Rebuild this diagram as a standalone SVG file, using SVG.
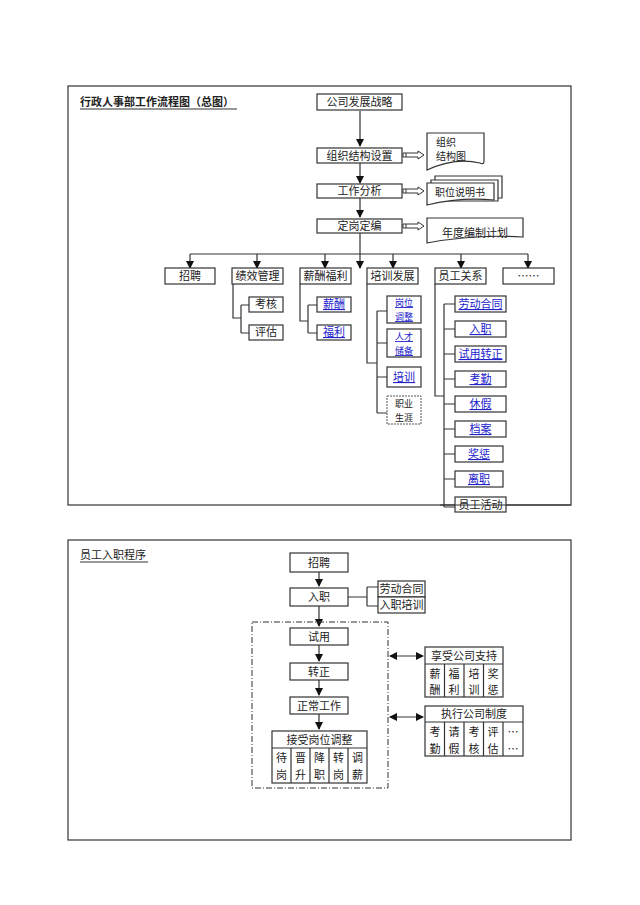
<svg xmlns="http://www.w3.org/2000/svg" width="640" height="905" viewBox="0 0 640 905">
<defs>
<style>
text{font-family:"Noto Sans CJK SC","Liberation Sans",sans-serif;font-size:11px;fill:#222;text-anchor:middle}
.t{text-anchor:start;font-size:11px}
.s{font-size:10px}
.u{font-size:9px}
.b{fill:#fff;stroke:#333;stroke-width:1.2}
.l{fill:none;stroke:#333;stroke-width:1.2}
.k{fill:#22c;text-decoration:underline}
</style>
<marker id="a" markerWidth="8" markerHeight="8" refX="7" refY="4" orient="auto-start-reverse" markerUnits="userSpaceOnUse"><path d="M0,0L8,4L0,8z" fill="#111"/></marker>
</defs>
<rect width="640" height="905" fill="#fff"/>
<rect x="68" y="86" width="503" height="419" class="l"/>
<rect x="68" y="540" width="503" height="300" class="l"/>
<text class="t" x="80" y="106" style="font-weight:bold">行政人事部工作流程图（总图）</text>
<line x1="80" y1="109" x2="237" y2="109" class="l"/>
<text class="t" x="80" y="559">员工入职程序</text>
<line x1="80" y1="562" x2="148" y2="562" class="l"/>

<g id="connectors">
<path class="l" d="M190,254H528"/>
<path class="l" d="M360,111V146" marker-end="url(#a)"/>
<path class="l" d="M360,162V183" marker-end="url(#a)"/>
<path class="l" d="M360,198V217" marker-end="url(#a)"/>
<path class="l" d="M360,233V268" marker-end="url(#a)"/>
<path class="l" d="M190,254V268" marker-end="url(#a)"/>
<path class="l" d="M257,254V268" marker-end="url(#a)"/>
<path class="l" d="M325,254V268" marker-end="url(#a)"/>
<path class="l" d="M393,254V268" marker-end="url(#a)"/>
<path class="l" d="M461,254V268" marker-end="url(#a)"/>
<path class="l" d="M528,254V268" marker-end="url(#a)"/>
<g fill="#fff" stroke="#333" stroke-width="1">
<path d="M403,153h3v4h-3zM406,153h12v-2l6,4l-6,4v-2h-12"/>
<path d="M403,189h3v4h-3zM406,189h12v-2l6,4l-6,4v-2h-12"/>
<path d="M403,224h3v4h-3zM406,224h12v-2l6,4l-6,4v-2h-12"/>
</g>
<path class="l" d="M233,284V318H241M241,305V333M241,305H249M241,333H249"/>
<path class="l" d="M300,284V321H308M308,305V333M308,305H317M308,333H317"/>
<path class="l" d="M367,284V363H377M377,311V413M377,311H387M377,343H387M377,377H387M377,413H387"/>
<path class="l" d="M435,284V396H444M444,304V507M444,304H455M444,329H455M444,354H455M444,379H455M444,404H455M444,429H455M444,454H455M444,479H455M444,507H455"/>
<path class="l" d="M319,572V586" marker-end="url(#a)"/>
<path class="l" d="M319,606V626" marker-end="url(#a)"/>
<path class="l" d="M319,645V661" marker-end="url(#a)"/>
<path class="l" d="M319,680V695" marker-end="url(#a)"/>
<path class="l" d="M319,714V729" marker-end="url(#a)"/>
<path class="l" d="M348,597H367M367,587V606M367,587H378M367,606H378"/>
<path class="l" d="M390,656H423" marker-start="url(#a)" marker-end="url(#a)"/>
<path class="l" d="M390,717H423" marker-start="url(#a)" marker-end="url(#a)"/>
<rect x="252" y="622" width="136" height="166" fill="none" stroke="#333" stroke-dasharray="6,2,1,2"/>
</g>

<g id="n1"><rect class="b" x="317" y="94" width="85" height="16"/><text x="359.5" y="106">公司发展战略</text></g>
<g id="n2"><rect class="b" x="317" y="148" width="85" height="15"/><text x="359.5" y="160">组织结构设置</text></g>
<g id="n3"><rect class="b" x="317" y="184" width="85" height="14"/><text x="359.5" y="195">工作分析</text></g>
<g id="n4"><rect class="b" x="317" y="219" width="85" height="14"/><text x="359.5" y="230">定岗定编</text></g>
<g id="d1"><path class="b" d="M427,133H484V161Q484,165 480,163 Q455,157 427,170Z"/><text class="t s" x="436" y="146">组织</text><text class="t s" x="436" y="160">结构图</text></g>
<g id="d2"><path class="b" d="M435,176H502V198H435Z"/><path class="b" d="M431,180H498V201H431Z"/><path class="b" d="M427,183H494V200Q460,197 427,205Z"/><text class="s" x="460" y="196">职位说明书</text></g>
<g id="d3"><path class="b" d="M427,218H523V237Q475,234 427,243Z"/><text x="475" y="237">年度编制计划</text></g>

<g id="r1"><rect class="b" x="165" y="268" width="50" height="16"/><text x="190" y="280">招聘</text></g>
<g id="r2"><rect class="b" x="232" y="268" width="51" height="16"/><text x="257.5" y="280">绩效管理</text></g>
<g id="r3"><rect class="b" x="300" y="268" width="51" height="16"/><text x="325.5" y="280">薪酬福利</text></g>
<g id="r4"><rect class="b" x="367" y="268" width="51" height="16"/><text x="392.5" y="280">培训发展</text></g>
<g id="r5"><rect class="b" x="435" y="268" width="51" height="16"/><text x="460.5" y="280">员工关系</text></g>
<g id="r6"><rect class="b" x="503" y="268" width="51" height="16"/><text x="528.5" y="280">……</text></g>

<g id="s1"><rect class="b" x="249" y="297" width="34" height="15"/><text x="266" y="308">考核</text></g>
<g id="s2"><rect class="b" x="249" y="325" width="34" height="15"/><text x="266" y="336">评估</text></g>
<g id="s3"><rect class="b" x="317" y="297" width="34" height="15"/><text class="k" x="334" y="308">薪酬</text></g>
<g id="s4"><rect class="b" x="317" y="325" width="34" height="15"/><text class="k" x="334" y="336">福利</text></g>
<g id="t1"><rect class="b" x="387" y="296" width="34" height="27"/><text class="k u" x="404" y="306">岗位</text><text class="k u" x="404" y="320">调整</text></g>
<g id="t2"><rect class="b" x="387" y="329" width="34" height="28"/><text class="k u" x="404" y="340">人才</text><text class="k u" x="404" y="354">储备</text></g>
<g id="t3"><rect class="b" x="387" y="367" width="34" height="20"/><text class="k" x="404" y="381">培训</text></g>
<g id="t4"><rect x="387" y="396" width="34" height="28" fill="#fff" stroke="#555" stroke-dasharray="2,1"/><text class="u" x="404" y="407">职业</text><text class="u" x="404" y="421">生涯</text></g>
<g id="e1"><rect class="b" x="455" y="296" width="51" height="16"/><text class="k" x="480.5" y="308">劳动合同</text></g>
<g id="e2"><rect class="b" x="455" y="321" width="51" height="16"/><text class="k" x="480.5" y="333">入职</text></g>
<g id="e3"><rect class="b" x="455" y="346" width="51" height="16"/><text class="k" x="480.5" y="358">试用转正</text></g>
<g id="e4"><rect class="b" x="455" y="371" width="51" height="16"/><text class="k" x="480.5" y="383">考勤</text></g>
<g id="e5"><rect class="b" x="455" y="396" width="51" height="16"/><text class="k" x="480.5" y="408">休假</text></g>
<g id="e6"><rect class="b" x="455" y="421" width="51" height="16"/><text class="k" x="480.5" y="433">档案</text></g>
<g id="e7"><rect class="b" x="455" y="446" width="48" height="16"/><text class="k" x="479" y="458">奖惩</text></g>
<g id="e8"><rect class="b" x="455" y="471" width="48" height="16"/><text class="k" x="479" y="483">离职</text></g>
<g id="e9"><rect class="b" x="455" y="497" width="51" height="15"/><line x1="440" y1="505" x2="571" y2="505" class="l"/><text x="480.5" y="509">员工活动</text></g>

<g id="p1"><rect class="b" x="290" y="553" width="58" height="19"/><text x="319" y="567">招聘</text></g>
<g id="p2"><rect class="b" x="290" y="588" width="58" height="18"/><text x="319" y="601">入职</text></g>
<g id="p3"><rect class="b" x="378" y="581" width="47" height="16"/><text x="401.5" y="593">劳动合同</text></g>
<g id="p4"><rect class="b" x="378" y="597" width="47" height="16"/><text x="401.5" y="609">入职培训</text></g>
<g id="p5"><rect class="b" x="290" y="628" width="58" height="17"/><text x="319" y="641">试用</text></g>
<g id="p6"><rect class="b" x="290" y="663" width="58" height="17"/><text x="319" y="676">转正</text></g>
<g id="p7"><rect class="b" x="290" y="697" width="58" height="17"/><text x="319" y="710">正常工作</text></g>
<g id="p8"><rect class="b" x="272" y="731" width="95" height="52"/><line class="l" x1="272" y1="748" x2="367" y2="748"/>
<path class="l" d="M291,748V783M310,748V783M329,748V783M348,748V783"/>
<text x="319.5" y="744">接受岗位调整</text>
<text x="281.5" y="762">待</text><text x="281.5" y="779">岗</text>
<text x="300.5" y="762">晋</text><text x="300.5" y="779">升</text>
<text x="319.5" y="762">降</text><text x="319.5" y="779">职</text>
<text x="338.5" y="762">转</text><text x="338.5" y="779">岗</text>
<text x="357.5" y="762">调</text><text x="357.5" y="779">薪</text></g>
<g id="p9"><rect class="b" x="425" y="647" width="78" height="50"/><line class="l" x1="425" y1="664" x2="503" y2="664"/>
<path class="l" d="M444.5,664V697M464,664V697M483.5,664V697"/>
<text x="464" y="660">享受公司支持</text>
<text x="435" y="678">薪</text><text x="435" y="694">酬</text>
<text x="454" y="678">福</text><text x="454" y="694">利</text>
<text x="474" y="678">培</text><text x="474" y="694">训</text>
<text x="493" y="678">奖</text><text x="493" y="694">惩</text></g>
<g id="p10"><rect class="b" x="425" y="706" width="98" height="50"/><line class="l" x1="425" y1="722" x2="523" y2="722"/>
<path class="l" d="M444.5,722V756M464,722V756M483.5,722V756M503,722V756"/>
<text x="474" y="718">执行公司制度</text>
<text x="435" y="736">考</text><text x="435" y="753">勤</text>
<text x="454" y="736">请</text><text x="454" y="753">假</text>
<text x="474" y="736">考</text><text x="474" y="753">核</text>
<text x="493" y="736">评</text><text x="493" y="753">估</text>
<text x="513" y="736">…</text><text x="513" y="753">…</text></g>
</svg>
